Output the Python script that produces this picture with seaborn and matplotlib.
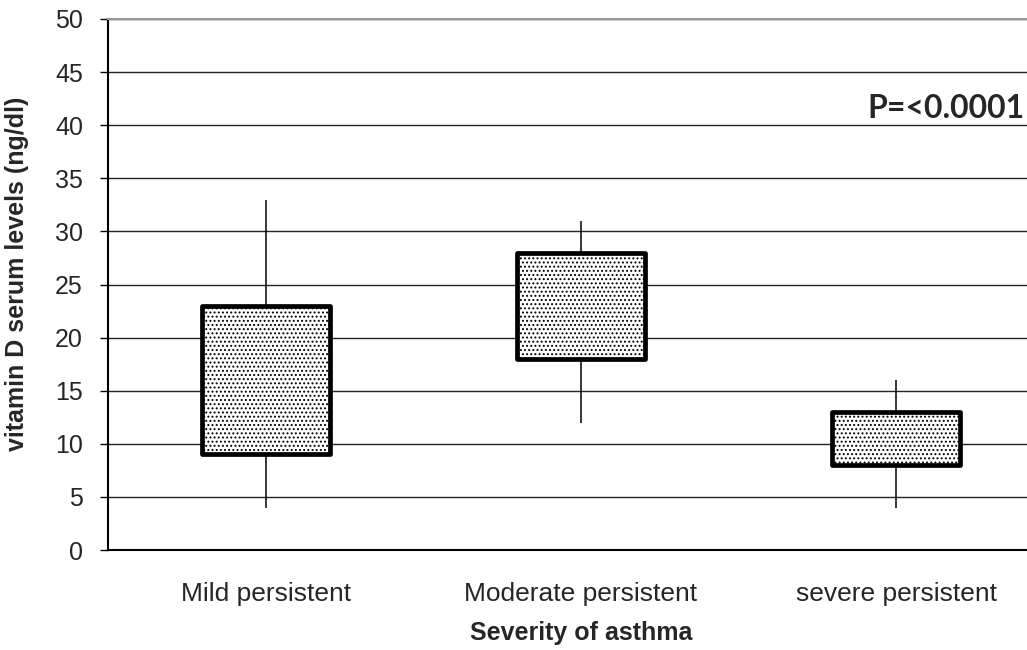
"""
Vitamin D serum levels by asthma severity (box chart).
"""

import matplotlib
matplotlib.use("Agg")
import matplotlib.pyplot as plt
import numpy as np
import pandas as pd
import seaborn as sns

categories = ["Mild persistent", "Moderate persistent", "severe persistent"]
whisker_low = [4, 12, 4]
box_low = [9, 18, 8]
box_high = [23, 28, 13]
whisker_high = [33, 31, 16]
y_ticks = [0, 5, 10, 15, 20, 25, 30, 35, 40, 45, 50]
p_label = "P=<0.0001"

# tabela long-form: min, q1, q1, q3, max -> kwartyle = granice pudełka
rows = []
for cat, lo, q1, q3, hi in zip(categories, whisker_low, box_low, box_high, whisker_high):
    for v in (lo, q1, q1, q3, hi):
        rows.append({"Severity": cat, "Level": v})
df = pd.DataFrame(rows)

sns.set_style("white")
plt.rcParams["font.family"] = ["Liberation Sans", "DejaVu Sans"]
plt.rcParams["hatch.linewidth"] = 0.9
plt.rcParams["hatch.color"] = "#444444"

fig = plt.figure(figsize=(10.27, 6.5), dpi=100)
ax = fig.add_axes([108 / 1027, 100 / 650, 946 / 1027, 531 / 650])

sns.boxplot(
    data=df, x="Severity", y="Level", order=categories, ax=ax,
    width=0.405, whis=(0, 100), showcaps=False, showfliers=False,
    color="white", linecolor="black", linewidth=3.4,
    boxprops={"hatch": "....", "joinstyle": "round"},
    whiskerprops={"linewidth": 1.1},
    medianprops={"linewidth": 0},
)

ax.set_xlim(-0.5, 2.5)
ax.set_ylim(0, 50)
ax.set_yticks(y_ticks)
ax.yaxis.grid(True, color="#222222", linewidth=1.0)
ax.set_axisbelow(True)

ax.set_xticks(range(len(categories)))
ax.set_xticklabels(categories, fontsize=19)
ax.set_xticks(np.arange(-0.5, len(categories)), minor=True)
ax.tick_params(axis="x", which="major", length=0, pad=23)
ax.tick_params(axis="x", which="minor", direction="inout", length=10, width=1, color="black")
ax.tick_params(axis="y", direction="out", length=6, width=1, color="black", labelsize=18, pad=12, left=True)

for side in ("left", "bottom"):
    ax.spines[side].set_color("black")
    ax.spines[side].set_linewidth(1.5)
ax.spines["top"].set_color("#999999")
ax.spines["top"].set_linewidth(1.5)
ax.spines["right"].set_visible(False)

ax.set_xlabel("Severity of asthma", fontsize=18, fontweight="bold", labelpad=11)
ax.set_ylabel("vitamin D serum levels (ng/dl)", fontsize=18, fontweight="bold")
ax.yaxis.set_label_coords(-0.083, 0.52)

fig.text(1024 / 1027, 1 - 108 / 650, p_label, ha="right", va="center",
         fontsize=23, fontweight="bold", family=["Lato", "DejaVu Sans"])

fig.savefig("out.png", dpi=100)
